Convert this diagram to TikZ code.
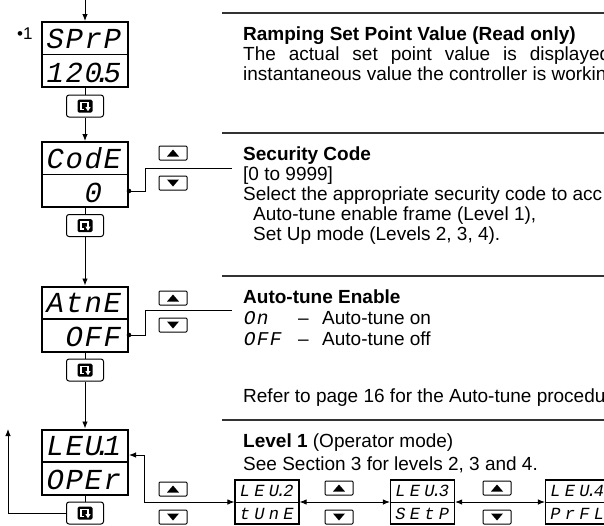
\documentclass[tikz,border=0pt]{standalone}
\usepackage{fontspec}
\setmainfont{Liberation Sans}
\newfontfamily\segfont{Liberation Mono}
\usetikzlibrary{arrows.meta,calc}
\newcommand\dg[1]{\makebox[19pt][c]{#1}}
\newcommand\sg[1]{\makebox[14.5pt][c]{#1}}
\newcommand\tg[1]{\makebox[13pt][c]{#1}}
\newcommand\dpt{\makebox[0pt][c]{.}}
\tikzset{
 disp/.style={draw, line width=2pt, minimum width=86pt, minimum height=65pt, inner sep=0pt},
 smallbox/.style={draw, line width=1.2pt, minimum width=64pt, minimum height=44pt, inner sep=0pt},
 keybtn/.style={draw, line width=1pt, rounded corners=2.5pt, minimum width=37pt, minimum height=22pt, inner sep=0pt},
 arrkey/.style={draw, line width=1pt, rounded corners=1pt, minimum width=28pt, minimum height=14pt, inner sep=0pt},
 sepline/.style={line width=1.6pt, draw=black!80},
 conn/.style={line width=0.9pt},
 tipend/.style={-{Latex[length=7pt,width=5.5pt]}},
 tipboth/.style={{Latex[length=7pt,width=5.5pt]}-{Latex[length=7pt,width=5.5pt]}},
 body/.style={anchor=base west, inner sep=0pt, font=\fontsize{19}{22}\selectfont},
 bodyb/.style={anchor=base west, inner sep=0pt, font=\bfseries\fontsize{19}{22}\selectfont},
 bigseg/.style={anchor=base east, inner sep=0pt, font=\segfont\itshape\fontsize{29}{30}\selectfont},
 smallseg/.style={anchor=base east, inner sep=0pt, font=\segfont\itshape\fontsize{17}{18}\selectfont},
 txtseg/.style={anchor=base west, inner sep=0pt, font=\segfont\itshape\fontsize{19.5}{20}\selectfont},
}
\newcommand\keyicon[1]{%
 \fill[rounded corners=1.5pt] ($(#1)+(-7.5,-6.5)$) rectangle ($(#1)+(7.5,6.5)$);
 \draw[white, line width=1.6pt] ($(#1)+(-1,3.5)$) -- ($(#1)+(-4,3.5)$) -- ($(#1)+(-4,-3.5)$) -- ($(#1)+(3,-3.5)$) -- ($(#1)+(3,1)$);
 \fill[white] ($(#1)+(0.3,1)$) -- ($(#1)+(5.7,1)$) -- ($(#1)+(3,5.2)$) -- cycle;}
\newcommand\upkey[2]{\node[arrkey] (#1) at (#2) {};
 \fill ($(#1)+(-6,3.5)$) -- ($(#1)+(6,3.5)$) -- ($(#1)+(0,-3.5)$) -- cycle;}
\newcommand\downkey[2]{\node[arrkey] (#1) at (#2) {};
 \fill ($(#1)+(-6,-3.5)$) -- ($(#1)+(6,-3.5)$) -- ($(#1)+(0,3.5)$) -- cycle;}
\begin{document}
\begin{tikzpicture}[x=1pt,y=-1pt]
\useasboundingbox (0,0) rectangle (604,525);
\clip (0,0) rectangle (604,525);
% ---------- left column displays ----------
\node[disp] (sprp) at (85,54.5) {};
\draw[line width=1.6pt] (sprp.west) -- (sprp.east);
\node[bigseg] (sprpa) at (122,48) {\dg{S}\dg{P}\dg{r}\dg{P}};
\node[bigseg] (sprpb) at (122,82) {\dg{1}\dg{2}\dg{0}\dpt\dg{5}};
\node[anchor=base west, inner sep=0pt, font=\fontsize{17}{18}\selectfont] (note) at (17,39) {•1};

\node[disp] (code) at (85,174.5) {};
\draw[line width=1.6pt] (code.west) -- (code.east);
\node[bigseg] (codea) at (122,168) {\dg{C}\dg{o}\dg{d}\dg{E}};
\node[bigseg] (codeb) at (122,202) {\dg{0}\dg{}};

\node[disp] (atne) at (85,319) {};
\draw[line width=1.6pt] (atne.west) -- (atne.east);
\node[bigseg] (atnea) at (122,312) {\dg{A}\dg{t}\dg{n}\dg{E}};
\node[bigseg] (atneb) at (122,346) {\dg{O}\dg{F}\dg{F}};

\node[disp] (lev1) at (85,462) {};
\draw[line width=1.6pt] (lev1.west) -- (lev1.east);
\node[bigseg] (lev1a) at (122,455) {\dg{L}\dg{E}\dg{U}\dpt\dg{1}};
\node[bigseg] (lev1b) at (122,489) {\dg{O}\dg{P}\dg{E}\dg{r}};

% ---------- scroll keys ----------
\node[keybtn] (k1) at (85,106) {}; \keyicon{k1}
\node[keybtn] (k2) at (85,225.5) {}; \keyicon{k2}
\node[keybtn] (k3) at (85,370) {}; \keyicon{k3}
\node[keybtn] (k4) at (85,513) {}; \keyicon{k4}

% ---------- up/down keys ----------
\upkey{u1}{173,153} \downkey{d1}{173,183}
\upkey{u2}{173,298} \downkey{d2}{173,325}
\upkey{u3}{173,489} \downkey{d3}{173,517}
\upkey{u4}{339,488} \downkey{d4}{339,517}
\upkey{u5}{497,488} \downkey{d5}{497,517}

% ---------- bottom row displays ----------
\node[smallbox] (lev2) at (267,502) {};
\draw[line width=1pt] (lev2.west) -- (lev2.east);
\node[smallseg] (lev2a) at (296,496) {\sg{L}\sg{E}\sg{U}\dpt\sg{2}};
\node[smallseg] (lev2b) at (296,519) {\sg{t}\sg{U}\sg{n}\sg{E}};
\node[smallbox] (lev3) at (422.5,502) {};
\draw[line width=1pt] (lev3.west) -- (lev3.east);
\node[smallseg] (lev3a) at (451.5,496) {\sg{L}\sg{E}\sg{U}\dpt\sg{3}};
\node[smallseg] (lev3b) at (451.5,519) {\sg{S}\sg{E}\sg{t}\sg{P}};
\node[smallbox] (lev4) at (577.5,502) {};
\draw[line width=1pt] (lev4.west) -- (lev4.east);
\node[smallseg] (lev4a) at (606.5,496) {\sg{L}\sg{E}\sg{U}\dpt\sg{4}};
\node[smallseg] (lev4b) at (606.5,519) {\sg{P}\sg{r}\sg{F}\sg{L}};

% ---------- connectors ----------
\coordinate (topin) at (85,-2);
\draw[conn,tipend] (topin) -- (sprp.north);
\draw[conn] (sprp.south) -- (k1.north);
\draw[conn,tipend] (k1.south) -- (code.north);
\draw[conn] (code.south) -- (k2.north);
\draw[conn,tipend] (k2.south) -- (atne.north);
\draw[conn] (atne.south) -- (k3.north);
\draw[conn,tipend] (k3.south) -- (lev1.north);
\draw[conn] (lev1.south) -- (k4.north);
\coordinate (loopend) at (8,429);
\draw[conn,tipend] (k4.west) -| (loopend);

\coordinate (cdot) at ($(code.east)+(0,16.5)$);
\coordinate (cdesc) at (232,168);
\fill (cdot) circle (2.3);
\draw[conn] (cdot) -- ++(16,0) |- (cdesc);
\coordinate (adot) at ($(atne.east)+(0,16)$);
\coordinate (adesc) at (232,310);
\fill (adot) circle (2.3);
\draw[conn] (adot) -- ++(16,0) |- (adesc);

\coordinate (l1in) at ($(lev1.east)+(0,-7)$);
\draw[conn,tipboth] (l1in) -- ++(15,0) |- (lev2.west);
\draw[conn,tipboth] (lev2.east) -- (lev3.west);
\draw[conn,tipboth] (lev3.east) -- (lev4.west);

% ---------- separators ----------
\draw[sepline] (222,13) -- (604,13);
\draw[sepline] (222,133) -- (604,133);
\draw[sepline] (222,276) -- (604,276);
\draw[sepline] (222,420) -- (604,420);

% ---------- descriptions ----------
\node[bodyb] (t1) at (243,40) {Ramping Set Point Value (Read only)};
\node[body] (t1b) at (243,60) {\makebox[367pt][s]{The actual set point value is displayed}};
\node[body] (t1c) at (243,80) {instantaneous value the controller is workin};

\node[bodyb] (t2) at (243,160) {Security Code};
\node[body] (t2b) at (243,180) {[0 to 9999]};
\node[body] (t2c) at (243,200) {Select the appropriate security code to acc};
\node[body] (t2d) at (253,220) {Auto-tune enable frame (Level 1),};
\node[body] (t2e) at (253,240) {Set Up mode (Levels 2, 3, 4).};

\node[bodyb] (t3) at (243,303) {Auto-tune Enable};
\node[txtseg] (t3on) at (243,324) {\tg{O}\tg{n}};
\node[body] (t3ond) at (298,324) {–};
\node[body] (t3onx) at (322,324) {Auto-tune on};
\node[txtseg] (t3off) at (243,345) {\tg{O}\tg{F}\tg{F}};
\node[body] (t3offd) at (298,345) {–};
\node[body] (t3offx) at (322,345) {Auto-tune off};
\node[body] (t3r) at (243,402) {Refer to page 16 for the Auto-tune procedu};

\node[body] (t4) at (243,447) {\textbf{Level 1} (Operator mode)};
\node[body] (t4b) at (243,470) {See Section 3 for levels 2, 3 and 4.};
\end{tikzpicture}
\end{document}
